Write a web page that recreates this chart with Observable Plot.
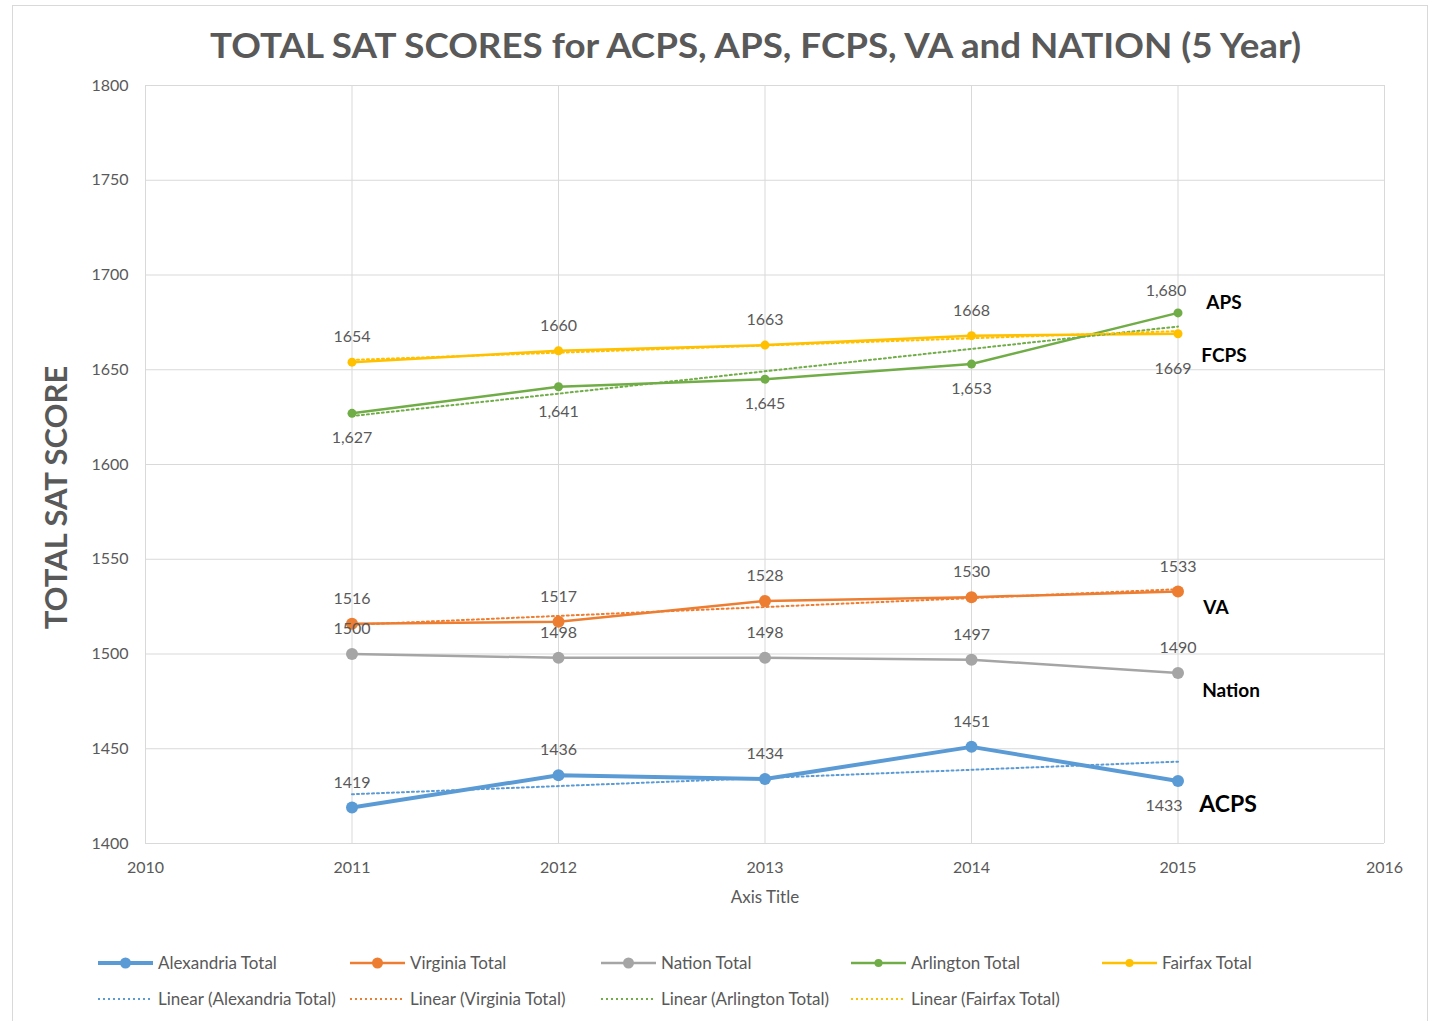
<!DOCTYPE html>
<html>
<head>
<meta charset="utf-8">
<script src="https://cdn.jsdelivr.net/npm/d3@7"></script>
<script src="https://cdn.jsdelivr.net/npm/@observablehq/plot@0.6"></script>
<style>
  body { margin: 0; background: #fff; font-family: Lato, "Open Sans", sans-serif; }
  #frame { position: absolute; left: 12px; top: 5px; width: 1414px; height: 1030px; border: 1px solid #d9d9d9; }
  #title { position: absolute; left: 0; top: 0; }
  #chart { position: absolute; left: 0; top: 70px; }
  #legend { position: absolute; left: 0; top: 940px; }
</style>
</head>
<body>
<div id="frame"></div>
<svg id="title" width="1437" height="70"></svg>
<div id="chart"></div>
<svg id="legend" width="1437" height="80"></svg>
<script>
// ---- Data ----
const years = [2011, 2012, 2013, 2014, 2015];
const alexandria = [1419, 1436, 1434, 1451, 1433];
const virginia   = [1516, 1517, 1528, 1530, 1533];
const nation     = [1500, 1498, 1498, 1497, 1490];
const arlington  = [1627, 1641, 1645, 1653, 1680];
const fairfax    = [1654, 1660, 1663, 1668, 1669];
const xTicks = [2010, 2011, 2012, 2013, 2014, 2015, 2016];
const yTicks = [1400, 1450, 1500, 1550, 1600, 1650, 1700, 1750, 1800];
const seriesNames = ["Alexandria Total", "Virginia Total", "Nation Total", "Arlington Total", "Fairfax Total"];
const trendNames = ["Linear (Alexandria Total)", "Linear (Virginia Total)", "Linear (Arlington Total)", "Linear (Fairfax Total)"];
const titleText = "TOTAL SAT SCORES for ACPS, APS, FCPS, VA and NATION (5 Year)";

// ---- Styles / placement ----
const style = {
  "Alexandria Total": {values: alexandria, color: "#5b9bd5", width: 4, r: 6, trend: true, fmt: d => String(d),
    sides: ["above","above","above","above","belowLeft"], tag: {text: "ACPS", dx: 50, dy: 24, size: 23}},
  "Virginia Total": {values: virginia, color: "#ed7d31", width: 2.5, r: 6, trend: true, fmt: d => String(d),
    sides: ["above","above","above","above","above"], tag: {text: "VA", dx: 38, dy: 16, size: 19}},
  "Nation Total": {values: nation, color: "#a5a5a5", width: 2.5, r: 6, trend: false, fmt: d => String(d),
    sides: ["above","above","above","above","above"], tag: {text: "Nation", dx: 53, dy: 18, size: 19}},
  "Arlington Total": {values: arlington, color: "#70ad47", width: 2.5, r: 4.5, trend: true, fmt: d3.format(","),
    sides: ["below","below","below","below","aboveLeft"], tag: {text: "APS", dx: 46, dy: -10, size: 19}},
  "Fairfax Total": {values: fairfax, color: "#ffc000", width: 2.5, r: 4.5, trend: true, fmt: d => String(d),
    sides: ["above","above","above","above","belowFar"], tag: {text: "FCPS", dx: 46, dy: 22, size: 19}}
};
const sideOffset = {
  above: [0, -25], below: [0, 25], belowLeft: [-14, 25], aboveLeft: [-12, -22], belowFar: [-5, 35]
};

const rows = seriesNames.flatMap(name => years.map((year, i) => ({
  series: name, year, value: style[name].values[i], side: style[name].sides[i]
})));

// ---- Title ----
const tsvg = d3.select("#title");
tsvg.append("text").attr("x", 755.5).attr("y", 58).attr("text-anchor", "middle")
  .attr("font-family", "Lato, sans-serif").attr("font-weight", "bold").attr("font-size", 35)
  .attr("fill", "#595959").attr("textLength", 1091).attr("lengthAdjust", "spacingAndGlyphs")
  .text(titleText);

// ---- Chart ----
const marks = [
  Plot.gridX(xTicks, {stroke: "#d9d9d9", strokeOpacity: 1}),
  Plot.gridY(yTicks, {stroke: "#d9d9d9", strokeOpacity: 1}),
  Plot.axisX(xTicks, {tickSize: 0, tickPadding: 18, tickFormat: d => String(d), fontSize: 16, label: null}),
  Plot.axisY(yTicks, {tickSize: 0, tickPadding: 17, tickFormat: d => String(d), fontSize: 16, label: null}),
  Plot.text(["TOTAL SAT SCORE"], {frameAnchor: "left", textAnchor: "middle", dx: -88, dy: 33, rotate: -90,
    fontSize: 31, fontWeight: "bold", fill: "#595959"}),
  Plot.text(["Axis Title"], {frameAnchor: "bottom", dy: 59, fontSize: 17, fill: "#595959"})
];
for (const name of seriesNames) {
  const s = style[name];
  const data = rows.filter(d => d.series === name);
  marks.push(Plot.line(data, {x: "year", y: "value", stroke: s.color, strokeWidth: s.width}));
}
for (const name of seriesNames) {
  const s = style[name];
  const data = rows.filter(d => d.series === name);
  if (s.trend) marks.push(Plot.linearRegressionY(data, {x: "year", y: "value", stroke: s.color,
    strokeWidth: 2, strokeDasharray: "2 3", ci: 0}));
}
for (const name of seriesNames) {
  const s = style[name];
  const data = rows.filter(d => d.series === name);
  marks.push(Plot.dot(data, {x: "year", y: "value", r: s.r, fill: s.color, stroke: null}));
  for (const side of Object.keys(sideOffset)) {
    const sub = data.filter(d => d.side === side);
    if (!sub.length) continue;
    marks.push(Plot.text(sub, {x: "year", y: "value", text: d => s.fmt(d.value), dx: sideOffset[side][0],
      dy: sideOffset[side][1], fontSize: 16, fill: "#595959"}));
  }
  const last = data[data.length - 1];
  marks.push(Plot.text([last], {x: "year", y: "value", text: () => s.tag.text, dx: s.tag.dx, dy: s.tag.dy,
    fontSize: s.tag.size, fontWeight: "bold", fill: "#000"}));
}
// leader line for the shifted "1,680" label
const arlLast = rows.filter(d => d.series === "Arlington Total").slice(-1);
marks.push(Plot.link(arlLast, {x1: "year", x2: "year", y1: "value", y2: "value", dx: -6, dy: -7,
  stroke: "#bfbfbf", strokeWidth: 1, markerEnd: null, transform: null}));

const chart = Plot.plot({
  width: 1437, height: 850,
  marginLeft: 145, marginRight: 53, marginTop: 15, marginBottom: 77,
  style: {fontFamily: "Lato, 'Open Sans', sans-serif", fontSize: "16px", color: "#595959", background: "transparent", overflow: "visible"},
  x: {domain: [2010, 2016]},
  y: {domain: [1400, 1800]},
  marks
});
document.getElementById("chart").appendChild(chart);

// ---- Legend ----
const lsvg = d3.select("#legend");
const colX = [98, 350, 601, 851, 1102];
seriesNames.forEach((name, i) => {
  const s = style[name];
  const g = lsvg.append("g").attr("transform", `translate(${colX[i]},23)`);
  g.append("line").attr("x1", 0).attr("x2", 55).attr("stroke", s.color).attr("stroke-width", s.width);
  g.append("circle").attr("cx", 27.5).attr("r", s.r - 0.5).attr("fill", s.color);
  g.append("text").attr("x", 60).attr("dy", "0.35em").attr("font-size", 17).attr("fill", "#595959")
    .attr("font-family", "Lato, sans-serif").text(name);
});
const trendSeries = seriesNames.filter(n => style[n].trend);
trendSeries.forEach((name, i) => {
  const s = style[name];
  const g = lsvg.append("g").attr("transform", `translate(${colX[i]},59)`);
  g.append("line").attr("x1", 0).attr("x2", 55).attr("stroke", s.color).attr("stroke-width", 2)
    .attr("stroke-dasharray", "2 3");
  g.append("text").attr("x", 60).attr("dy", "0.35em").attr("font-size", 17).attr("fill", "#595959")
    .attr("font-family", "Lato, sans-serif").text(trendNames[i]);
});
</script>
</body>
</html>
